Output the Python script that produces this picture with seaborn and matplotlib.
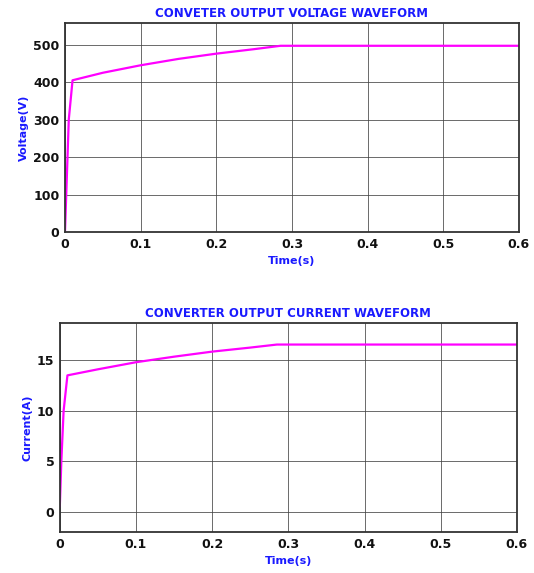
import numpy as np
import pandas as pd
import matplotlib.pyplot as plt
import seaborn as sns

# valores
t_volt = [0.0, 0.002, 0.005, 0.01, 0.05, 0.1, 0.15, 0.2, 0.25, 0.285, 0.4, 0.5, 0.6]
voltage = [0, 120, 300, 405, 425, 445, 462, 476, 488, 497, 497, 497, 497]

t_curr = [0.0, 0.002, 0.005, 0.01, 0.05, 0.1, 0.15, 0.2, 0.25, 0.285, 0.4, 0.5, 0.6]
current = [0.5, 5, 10, 13.5, 14.1, 14.8, 15.35, 15.85, 16.25, 16.55, 16.55, 16.55, 16.55]

x_ticks = [0, 0.1, 0.2, 0.3, 0.4, 0.5, 0.6]
x_labels = ['0', '0.1', '0.2', '0.3', '0.4', '0.5', '0.6']

df_v = pd.DataFrame({'t': t_volt, 'v': voltage})
df_i = pd.DataFrame({'t': t_curr, 'i': current})

sns.set_style('white')
plt.rcParams['font.family'] = ['DejaVu Sans']

blue = '#1a1aff'
mag = '#ff00ff'

fig = plt.figure(figsize=(5.34, 5.73), dpi=100)
ax1 = fig.add_axes([0.1217, 0.595, 0.850, 0.365])
ax2 = fig.add_axes([0.112, 0.0716, 0.856, 0.365])

sns.lineplot(data=df_v, x='t', y='v', ax=ax1, color=mag, linewidth=1.6)
sns.lineplot(data=df_i, x='t', y='i', ax=ax2, color=mag, linewidth=1.6)

def estilo(ax, title, ylabel, ylim, yticks):
    ax.set_xlim(0, 0.6)
    ax.set_ylim(*ylim)
    ax.set_xticks(x_ticks)
    ax.set_xticklabels(x_labels)
    ax.set_yticks(yticks)
    ax.grid(True, color='#444444', linewidth=0.7, alpha=0.8)
    ax.set_axisbelow(True)
    for s in ax.spines.values():
        s.set_color('#333333')
        s.set_linewidth(1.3)
    ax.tick_params(labelsize=9, length=0, pad=4, labelcolor='#111111')
    for lab in ax.get_xticklabels() + ax.get_yticklabels():
        lab.set_fontweight('bold')
    ax.set_title(title, color=blue, fontsize=8.5, fontweight='bold', pad=4)
    ax.set_ylabel(ylabel, color=blue, fontsize=8, fontweight='bold', labelpad=3)
    ax.set_xlabel('Time(s)', color=blue, fontsize=8, fontweight='bold')

estilo(ax1, 'CONVETER OUTPUT VOLTAGE WAVEFORM', 'Voltage(V)', (0, 558), [0, 100, 200, 300, 400, 500])
estilo(ax2, 'CONVERTER OUTPUT CURRENT WAVEFORM', 'Current(A)', (-2, 18.7), [0, 5, 10, 15])

plt.savefig('out.png', dpi=100)
plt.close()
